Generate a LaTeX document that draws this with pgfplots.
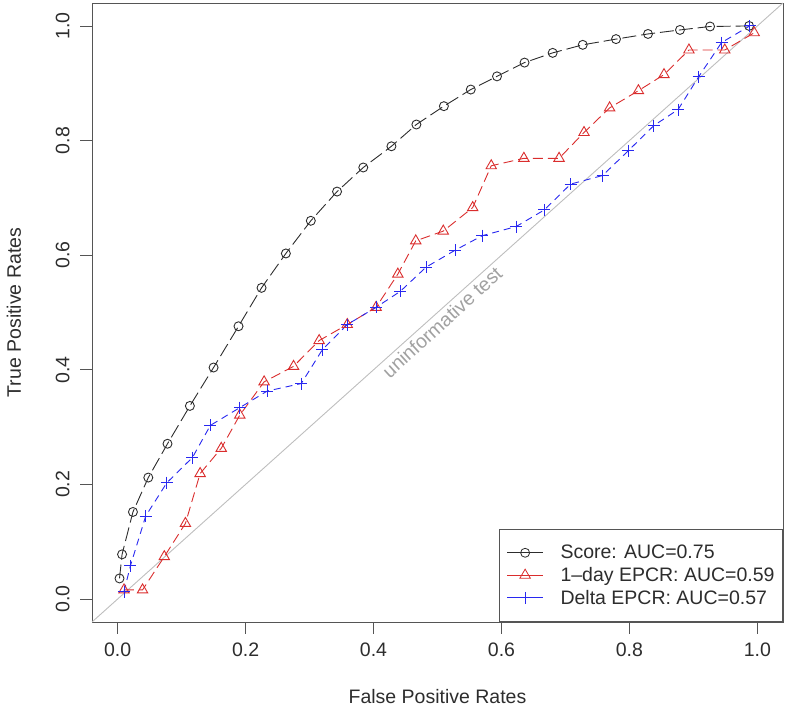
\documentclass[border=0pt]{standalone}
\usepackage{pgfplots}
\pgfplotsset{compat=1.18}
\usepackage{fontspec}
\setmainfont{Liberation Sans}
\definecolor{rred}{RGB}{218,45,45}
\definecolor{rblue}{RGB}{40,40,240}
\definecolor{rblack}{RGB}{45,45,45}
\definecolor{axgray}{RGB}{85,85,85}
\definecolor{diag}{RGB}{190,190,190}
\newcommand\bigf{\fontsize{19.5}{23}\selectfont}
\begin{document}
\begin{tikzpicture}
\begin{axis}[
  scale only axis, width=691pt, height=619pt,
  xmin=-0.04, xmax=1.04, ymin=-0.04, ymax=1.04,
  xtick={0,0.2,0.4,0.6,0.8,1}, ytick={0,0.2,0.4,0.6,0.8,1},
  xtick pos=bottom, ytick pos=left,
  tick align=outside, major tick length=12pt,
  tick style={axgray, line width=0.8pt},
  axis line style={axgray, line width=0.9pt},
  /pgf/number format/.cd, fixed, fixed zerofill, precision=1, assume math mode=true,
  /pgfplots/.cd,
  ticklabel style={font=\bigf, text=rblack},
  xticklabel style={anchor=north, yshift=-5pt},
  yticklabel style={xshift=-7pt, rotate=90, anchor=south},
  xlabel={False Positive Rates}, ylabel={True Positive Rates},
  xlabel style={font=\bigf, text=rblack, at={(axis description cs:0.5,-0.1212)}, anchor=center},
  ylabel style={font=\bigf, text=rblack, at={(axis description cs:-0.1129,0.5)}, anchor=center},
  legend style={at={(rel axis cs:1,0)}, anchor=south east, draw=axgray, line width=0.8pt,
    font=\bigf, text=rblack, inner xsep=7pt, inner ysep=15pt, row sep=5pt,
    nodes={inner sep=1pt}, legend cell align=left,
    /tikz/every odd column/.append style={column sep=16pt}},
  legend image code/.code={\draw[#1, solid, line width=0.8pt, mark repeat=2, mark phase=2] plot coordinates {(0pt,0pt) (18pt,0pt) (36pt,0pt)};},
]
\addplot[diag, line width=0.9pt, forget plot] coordinates {(-0.04,-0.04) (1.04,1.04)};
\node[diag!85!black, font=\bigf, rotate=42.3] at (axis cs:0.507,0.483) {uninformative test};

\addplot[rblack, line width=0.9pt, dash pattern=on 14pt off 5pt, mark=o, mark size=4.5pt, mark options={solid}] coordinates {
(0.003,0.036) (0.007,0.078) (0.024,0.152) (0.048,0.212) (0.078,0.271) (0.113,0.337)
(0.150,0.404) (0.189,0.476) (0.225,0.543) (0.263,0.603) (0.302,0.660) (0.343,0.711)
(0.384,0.753) (0.428,0.790) (0.467,0.828) (0.510,0.860) (0.552,0.889) (0.593,0.912)
(0.636,0.936) (0.680,0.953) (0.727,0.967) (0.779,0.977) (0.829,0.986) (0.879,0.993)
(0.926,0.999) (0.987,1.000)};
\addlegendentry{Score: AUC=0.75}

\addplot[rred, line width=0.9pt, dash pattern=on 10pt off 5pt, mark=triangle, mark size=6pt, mark options={solid}] coordinates {
(0.010,0.016) (0.039,0.016) (0.073,0.074) (0.106,0.132) (0.129,0.219) (0.162,0.263)
(0.191,0.321) (0.229,0.379) (0.275,0.406) (0.315,0.451) (0.359,0.479) (0.404,0.509)
(0.438,0.567) (0.466,0.625) (0.509,0.642) (0.555,0.683) (0.584,0.756) (0.635,0.769)
(0.690,0.769) (0.729,0.814) (0.769,0.857) (0.814,0.887) (0.854,0.915) (0.893,0.958)
(0.949,0.958) (0.995,0.988)};
\addlegendentry{1\textendash day EPCR: AUC=0.59}

\addplot[rblue, line width=0.9pt, dash pattern=on 7pt off 5pt, mark=+, mark size=6pt, mark options={solid}] coordinates {
(0.010,0.013) (0.020,0.058) (0.044,0.145) (0.077,0.203) (0.117,0.247) (0.145,0.303)
(0.191,0.334) (0.234,0.363) (0.287,0.376) (0.320,0.435) (0.359,0.479) (0.404,0.509)
(0.442,0.537) (0.482,0.579) (0.528,0.609) (0.570,0.634) (0.623,0.650) (0.667,0.679)
(0.708,0.724) (0.758,0.739) (0.798,0.782) (0.838,0.826) (0.876,0.854) (0.908,0.911)
(0.944,0.971) (0.988,1.000)};
\addlegendentry{Delta EPCR: AUC=0.57}
\end{axis}
\useasboundingbox ([xshift=-92pt,yshift=-90pt]current axis.south west) rectangle ([xshift=4pt,yshift=3pt]current axis.north east);
\end{tikzpicture}
\end{document}
